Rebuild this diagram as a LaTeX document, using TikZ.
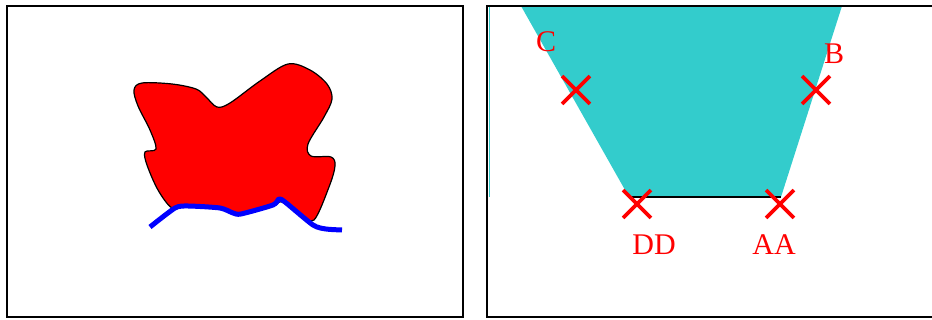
\documentclass[tikz,border=0pt]{standalone}
\usepackage{fontspec}
\setmainfont{Liberation Serif}
\usepackage{xcolor}
\usepackage{tikz}
\usetikzlibrary{shapes.misc}
\definecolor{tealfill}{RGB}{51,204,204}

\begin{document}
\begin{tikzpicture}[x=1pt, y=-1pt,
    frame/.style={line width=2pt, black},
    blob/.style={fill=red, draw=black, line width=1.2pt},
    rim/.style={blue, line width=5pt, line join=round},
    xmark/.style={cross out, draw=red, line width=3.8pt, minimum size=24pt, inner sep=0pt},
    lbl/.style={text=red, font=\fontsize{30}{32}\selectfont, inner sep=0pt}]
  \useasboundingbox (0,0) rectangle (932,320);

  % --- left panel ---
  \draw[blob] plot[smooth cycle, tension=0.55] coordinates {
    (134,90) (142,83) (172,84) (196,89) (206,97) (217,107) (230,103)
    (260,81) (288,64) (310,70) (327,84) (332,99) (324,117) (308,144)
    (311,156) (331,157) (335,166) (329,187) (314,220) (300,214)
    (282,202) (273,206) (240,215) (222,209) (186,206) (172,208)
    (158,190) (147,165) (145,152) (156,149) (150,130) (138,106)};
  \draw[rim] plot[smooth, tension=0.4] coordinates {
    (150,227) (175,208) (188,206) (220,208) (233,213) (241,214)
    (273,205) (279,199) (285,202) (313,225) (326,229) (342,230)};
  \draw[frame] (7,6) rectangle (463,317);

  % --- right panel ---
  \fill[tealfill] (521,6) -- (842,6) -- (781,197) -- (629,197) -- cycle;
  \draw[tealfill, line width=1.5pt] (489.5,7) -- (489.5,197);
  \draw[line width=1.5pt] (629,197) -- (781,197);
  \draw[frame] (932,6) -- (487,6) -- (487,317) -- (932,317);

  \node[xmark] (xc) at (576,90) {};
  \node[xmark] (xb) at (816,90) {};
  \node[xmark] (xd) at (637,204) {};
  \node[xmark] (xa) at (780,204) {};

  \node[lbl] (lc) at (546,42) {C};
  \node[lbl] (lb) at (834,54) {B};
  \node[lbl] (ld) at (654,245) {DD};
  \node[lbl] (la) at (774,245) {AA};
\end{tikzpicture}
\end{document}
